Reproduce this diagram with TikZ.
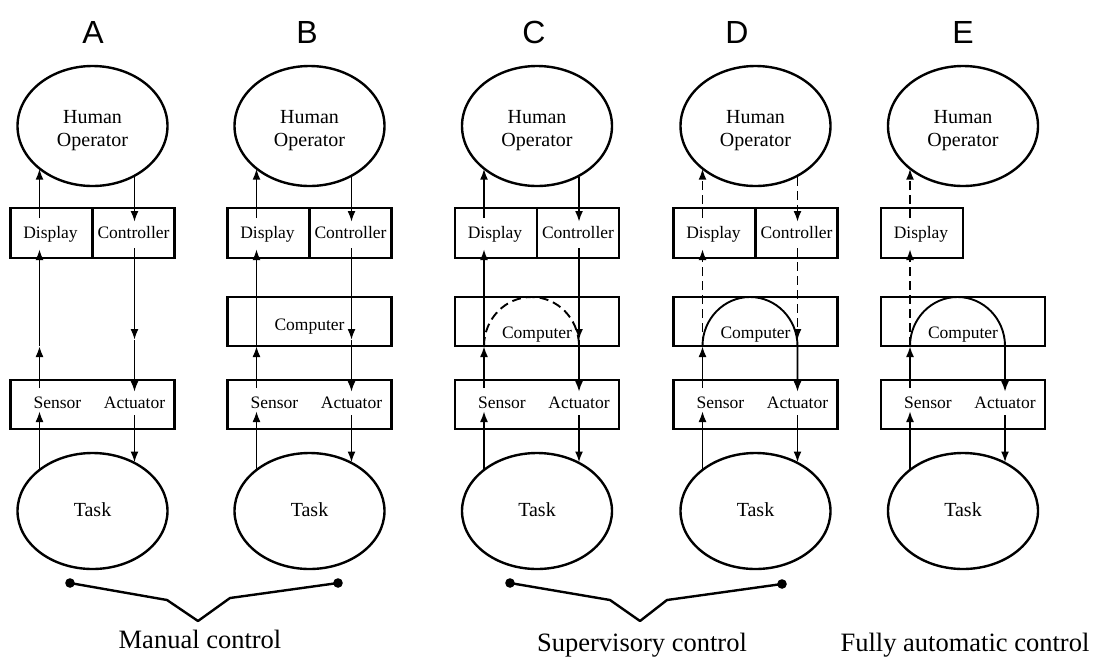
\documentclass[tikz,border=0pt]{standalone}
\usepackage{fontspec}
\setmainfont{Liberation Serif}
\newfontfamily\headfont{Liberation Sans}
\usetikzlibrary{arrows.meta,shapes.geometric}

\tikzset{
  boxframe/.style={draw, line width=2.2pt, inner sep=0pt},
  hoval/.style={ellipse, draw, line width=2.4pt, inner sep=0pt, minimum width=150pt, minimum height=120pt},
  toval/.style={ellipse, draw, line width=2.4pt, inner sep=0pt, minimum width=150pt, minimum height=116pt},
  lbl/.style={inner sep=0pt, anchor=base, font=\fontsize{17.5}{20}\selectfont},
  biglbl/.style={inner sep=0pt, anchor=base, font=\fontsize{20}{23}\selectfont},
  captext/.style={inner sep=0pt, anchor=base, font=\fontsize{26.5}{30}\selectfont},
  stageletter/.style={inner sep=0pt, anchor=base, font=\headfont\fontsize{32}{36}\selectfont},
  arr/.style={line width=1.9pt, -{Latex[length=11pt,width=8pt]}},
  dsh/.style={dash pattern=on 9pt off 5pt},
  bracketline/.style={line width=2.4pt, line join=round},
}

% parts shared by every stage: operator, display, sensor/actuator, task
\newcommand{\stage}[4]{%
  \node[stageletter] (#1-lab) at (#3,43) {#4};
  \node[hoval] (#1-ho) at (#2,126) {};
  \node[biglbl] (#1-hoa) at (#2,123) {Human};
  \node[biglbl] (#1-hob) at (#2,146) {Operator};
  \node[boxframe, minimum width=82pt, minimum height=50pt] (#1-disp) at (#2-41,233) {};
  \node[lbl] (#1-dispt) at (#2-42,238) {Display};
  \node[boxframe, minimum width=164pt, minimum height=49pt] (#1-sa) at (#2,404.5) {};
  \node[lbl] (#1-sen) at (#2-35,408) {Sensor};
  \node[lbl] (#1-act) at (#2+42,408) {Actuator};
  \node[toval] (#1-task) at (#2,511) {};
  \node[biglbl] (#1-taskt) at (#2,516) {Task};
  % left (feedback) and right (command) signal lines
  \coordinate (#1-L) at (#2-53,0);
  \coordinate (#1-R) at (#2+42,0);
  \coordinate (#1-sin) at (#2-53,411);
  \coordinate (#1-sout) at (#2-53,388);
  \coordinate (#1-cl) at (#2-53,346);
  \coordinate (#1-din) at (#2-53,249);
  \coordinate (#1-dout) at (#2-53,218);
  \coordinate (#1-cin) at (#2+42,222);
  \coordinate (#1-cout) at (#2+42,248);
  \coordinate (#1-cr) at (#2+42,340);
  \coordinate (#1-crb) at (#2+42,346);
  \coordinate (#1-ain) at (#2+42,392);
  \coordinate (#1-aout) at (#2+42,415);
  % loop inside the computer
  \coordinate (#1-k1) at (#2-53,319);
  \coordinate (#1-k2) at (#2-31.7,297);
  \coordinate (#1-pk) at (#2-5.5,297);
  \coordinate (#1-k3) at (#2+20.7,297);
  \coordinate (#1-k4) at (#2+42,319);
}
\newcommand{\ctrlbox}[2]{%
  \node[boxframe, minimum width=82pt, minimum height=50pt] (#1-ctrl) at (#2+41,233) {};
  \node[lbl] (#1-ctrlt) at (#2+41,238) {Controller};
}
\newcommand{\compbox}[3]{%
  \node[boxframe, minimum width=164pt, minimum height=49pt] (#1-cmp) at (#2,321.5) {};
  \node[lbl] (#1-cmpt) at (#2,#3) {Computer};
}

\begin{document}
\begin{tikzpicture}[x=1pt, y=-1pt]
\useasboundingbox (0,0) rectangle (1093,657);
\fill[white] (0,0) rectangle (1093,657);

% ---------- A: manual control ----------
\stage{a}{92.5}{93}{A}
\ctrlbox{a}{92.5}
\draw[arr] (a-L |- a-task.142.3) -- (a-sin);
\draw[arr] (a-sout) -- (a-cl);
\draw[arr] (a-cl) -- (a-din);
\draw[arr] (a-dout) -- (a-L |- a-ho.218.7);
\draw[arr] (a-R |- a-ho.310.2) -- (a-cin);
\draw[arr] (a-cout) -- (a-cr);
\draw[arr] (a-cr) -- (a-ain);
\draw[arr] (a-aout) -- (a-R |- a-task.48.8);

% ---------- B: manual control with computer ----------
\stage{b}{309.5}{307}{B}
\ctrlbox{b}{309.5}
\compbox{b}{309.5}{330}
\draw[arr] (b-L |- b-task.142.3) -- (b-sin);
\draw[arr] (b-sout) -- (b-cl);
\draw[arr] (b-cl) -- (b-din);
\draw[arr] (b-dout) -- (b-L |- b-ho.218.7);
\draw[arr] (b-R |- b-ho.310.2) -- (b-cin);
\draw[arr] (b-cout) -- (b-cr);
\draw[arr] (b-cr) -- (b-ain);
\draw[arr] (b-aout) -- (b-R |- b-task.48.8);

% ---------- C: supervisory, optional computer loop ----------
\stage{c}{537}{534}{C}
\ctrlbox{c}{537}
\compbox{c}{537}{338}
\draw[arr] (c-L |- c-task.142.3) -- (c-sin);
\draw[arr] (c-sout) -- (c-cl);
\draw[arr] (c-cl) -- (c-din);
\draw[arr] (c-dout) -- (c-L |- c-ho.218.7);
\draw[arr] (c-R |- c-ho.310.2) -- (c-cin);
\draw[arr] (c-cout) -- (c-cr);
\draw[arr] (c-cr) -- (c-ain);
\draw[arr] (c-aout) -- (c-R |- c-task.48.8);
\draw[line width=1.9pt, dsh] (c-cl) .. controls (c-k1) and (c-k2) .. (c-pk)
  .. controls (c-k3) and (c-k4) .. (c-crb);

% ---------- D: supervisory, computer loop closed ----------
\stage{d}{755.5}{737}{D}
\ctrlbox{d}{755.5}
\compbox{d}{755.5}{338}
\draw[arr] (d-L |- d-task.142.3) -- (d-sin);
\draw[arr] (d-sout) -- (d-cl);
\draw[arr, dsh] (d-cl) -- (d-din);
\draw[arr, dsh] (d-dout) -- (d-L |- d-ho.218.7);
\draw[arr, dsh] (d-R |- d-ho.310.2) -- (d-cin);
\draw[arr, dsh] (d-cout) -- (d-cr);
\draw[arr] (d-cl) .. controls (d-k1) and (d-k2) .. (d-pk)
  .. controls (d-k3) and (d-k4) .. (d-crb) -- (d-ain);
\draw[arr] (d-aout) -- (d-R |- d-task.48.8);

% ---------- E: fully automatic ----------
\stage{e}{963}{963}{E}
\compbox{e}{963}{338}
\draw[arr] (e-L |- e-task.142.3) -- (e-sin);
\draw[arr] (e-sout) -- (e-cl);
\draw[arr, dsh] (e-cl) -- (e-din);
\draw[arr, dsh] (e-dout) -- (e-L |- e-ho.218.7);
\draw[arr] (e-cl) .. controls (e-k1) and (e-k2) .. (e-pk)
  .. controls (e-k3) and (e-k4) .. (e-crb) -- (e-ain);
\draw[arr] (e-aout) -- (e-R |- e-task.48.8);

% ---------- group brackets and captions ----------
\coordinate (m1) at (70,583);
\coordinate (m2) at (167,600);
\coordinate (m3) at (198,621);
\coordinate (m4) at (230,598);
\coordinate (m5) at (338,583);
\draw[bracketline] (m1) -- (m2) -- (m3) -- (m4) -- (m5);
\fill (m1) circle[radius=4.8pt];
\fill (m5) circle[radius=4.8pt];

\coordinate (s1) at (510,583);
\coordinate (s2) at (610,600);
\coordinate (s3) at (640,621);
\coordinate (s4) at (667,600);
\coordinate (s5) at (782,584);
\draw[bracketline] (s1) -- (s2) -- (s3) -- (s4) -- (s5);
\fill (s1) circle[radius=4.8pt];
\fill (s5) circle[radius=4.8pt];

\node[captext] (manual) at (200,648) {Manual control};
\node[captext] (superv) at (642,651) {Supervisory control};
\node[captext] (fullauto) at (965,651) {Fully automatic control};
\end{tikzpicture}
\end{document}
